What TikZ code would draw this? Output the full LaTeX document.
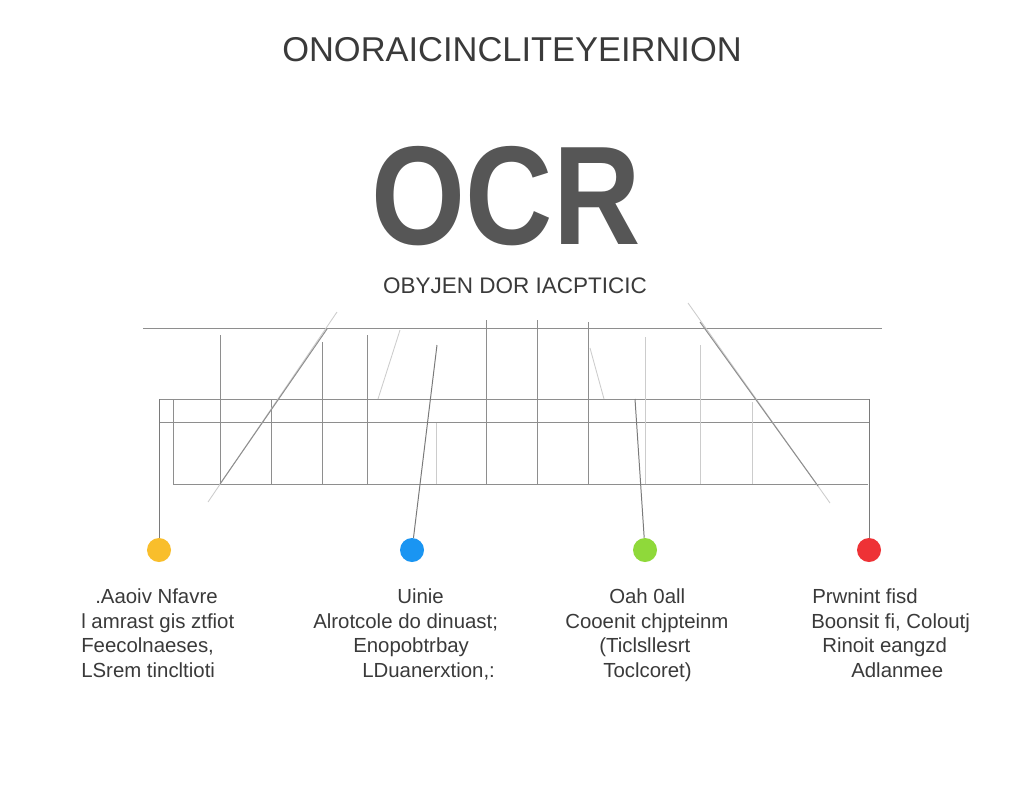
\documentclass[tikz,border=0pt]{standalone}
\usepackage{graphicx}
\usepackage{fontspec}
\setmainfont{Liberation Sans}
\usetikzlibrary{positioning}
\definecolor{ink}{HTML}{3A3A3A}
\definecolor{ocrgray}{HTML}{565656}
\definecolor{rulegray}{HTML}{8E8E8E}
\definecolor{leadgray}{HTML}{7A7A7A}
\definecolor{dotyellow}{HTML}{F9BE2B}
\definecolor{dotblue}{HTML}{1A95F2}
\definecolor{dotgreen}{HTML}{8FD93A}
\definecolor{dotred}{HTML}{EE3236}
\tikzset{
  gridline/.style={draw=rulegray,line width=.7pt},
  faintline/.style={draw=rulegray!45,line width=.6pt},
  leadline/.style={draw=leadgray,line width=.7pt},
  bead/.style={circle,fill=#1,inner sep=0pt,minimum size=.6cm},
  lbl/.style={font=\fontsize{14.5}{17}\selectfont,text=ink,inner sep=0pt,anchor=base west},
}
\begin{document}
\begin{tikzpicture}[x=0.025cm,y=-0.025cm]
\useasboundingbox[fill=white] (0,0) rectangle (1024,796);
% heading
\node[font=\fontsize{24.5}{24.5}\selectfont,text=ink] (title) at (512,50) {ONORAICINCLITEYEIRNION};
\node[font=\bfseries\fontsize{100}{100}\selectfont,text=ocrgray] (ocr) at (506,196) {\scalebox{.86}[1]{OCR}};
\node[font=\fontsize{16}{16}\selectfont,text=ink] (sub) at (515,286) {OBYJEN DOR IACPTICIC};

% grid
\draw[gridline] (143,328)--(882,328);
\draw[gridline] (159,399)--(869,399);
\draw[gridline] (159,422)--(869,422);
\draw[gridline] (173,484)--(868,484);
\draw[gridline] (173,399)--(173,484);
\foreach \x/\y in {220/335,271/399,322/342,367/335,486/320,537/320,588/322}
  \draw[gridline] (\x,\y)--(\x,484);
\foreach \x/\y in {436/423,645/337,700/345,752/402}
  \draw[faintline] (\x,\y)--(\x,484);

% slanted strokes
\draw[faintline] (337,312)--(208,502);
\draw[gridline] (327,329)--(220,484);
\draw[faintline] (688,303)--(830,503);
\draw[gridline] (700,322)--(818,486);
\draw[faintline] (400,330)--(378,399);
\draw[faintline] (590,348)--(604,399);

% dots and leads
\node[bead=dotyellow] (ydot) at (159,550) {};
\node[bead=dotblue] (bdot) at (412,550) {};
\node[bead=dotgreen] (gdot) at (645,550) {};
\node[bead=dotred] (rdot) at (869,550) {};
\coordinate (ytop) at (159,399);
\coordinate (btop) at (437,345);
\coordinate (gtop) at (635,399);
\coordinate (rtop) at (869,399);
\draw[leadline] (ydot)--(ytop);
\draw[leadline] (bdot)--(btop);
\draw[leadline] (gdot)--(gtop);
\draw[leadline] (rdot)--(rtop);

% captions
\foreach \x/\y/\t [count=\i] in {95/603/.Aaoiv Nfavre, 81/628/l amrast gis ztfiot,
    81/652/{Feecolnaeses,}, 81/677/LSrem tincltioti,
    397/603/Uinie, 313/628/Alrotcole do dinuast;, 353/652/Enopobtrbay, 362/677/{LDuanerxtion,:},
    609/603/Oah 0all, 565/628/Cooenit chjpteinm, 599/652/(Ticlsllesrt, 603/677/Toclcoret),
    812/603/Prwnint fisd, 811/628/{Boonsit fi, Coloutj}, 822/652/Rinoit eangzd, 851/677/Adlanmee}
  \node[lbl] (line\i) at (\x,\y) {\t};
\end{tikzpicture}
\end{document}
